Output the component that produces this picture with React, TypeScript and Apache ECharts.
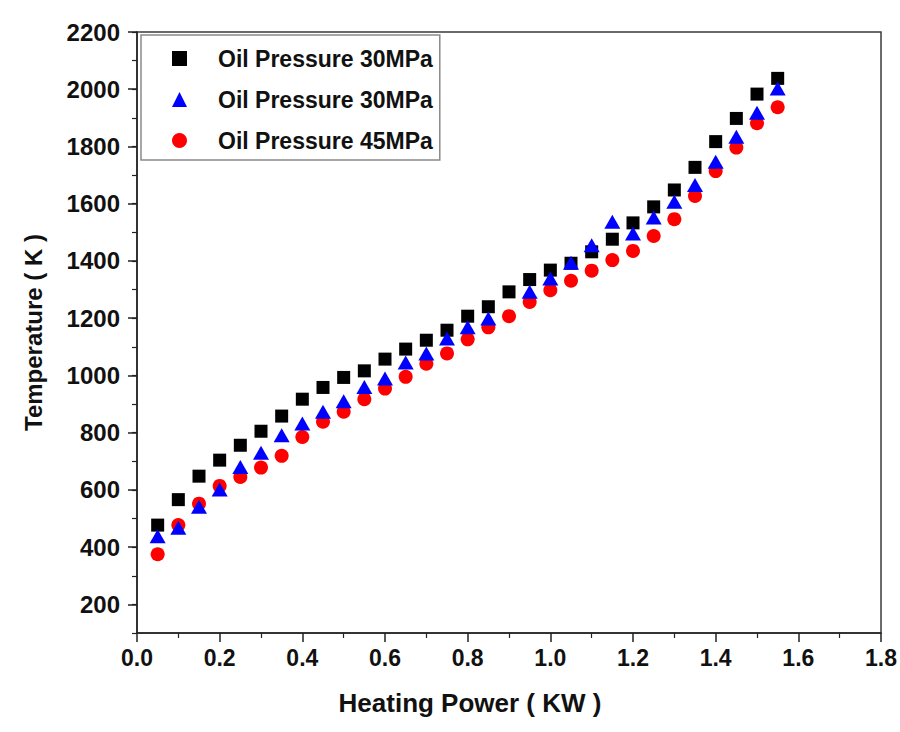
import React, { useEffect, useRef } from "react";
import * as echarts from "echarts";

const heatingPower = [
  0.05, 0.1, 0.15, 0.2, 0.25, 0.3, 0.35, 0.4, 0.45, 0.5, 0.55, 0.6, 0.65, 0.7, 0.75, 0.8,
  0.85, 0.9, 0.95, 1.0, 1.05, 1.1, 1.15, 1.2, 1.25, 1.3, 1.35, 1.4, 1.45, 1.5, 1.55,
];
const seriesKeys = ["blackSquare", "blueTriangle", "redCircle"];
const legendLabels = ["Oil Pressure 30MPa", "Oil Pressure 30MPa", "Oil Pressure 45MPa"];
const blackTemps = [
  477, 566, 648, 704, 756, 805, 858, 917, 958, 993, 1016, 1057, 1092, 1123, 1158, 1207,
  1240, 1292, 1335, 1368, 1392, 1432, 1476, 1533, 1589, 1648, 1727, 1817, 1898, 1983, 2038,
];
const blueTemps: (number | null)[] = [
  438, 468, 541, 601, 680, 730, 791, 832, 873, 910, 960, 989, 1045, 1077, 1129, 1168,
  1199, null, 1292, 1339, 1394, 1455, 1537, 1496, 1552, 1607, 1665, 1747, 1834, 1918, 2003,
];
const redTemps = [
  375, 477, 552, 614, 645, 678, 719, 785, 838, 873, 917, 954, 995, 1041, 1077, 1126,
  1168, 1207, 1257, 1298, 1331, 1366, 1403, 1435, 1487, 1546, 1627, 1714, 1796, 1881, 1937,
];
const yMajorTicks = [200, 400, 600, 800, 1000, 1200, 1400, 1600, 1800, 2000, 2200];
const xAxisTitle = "Heating Power ( KW )";
const yAxisTitle = "Temperature ( K )";

function pairs(vals: (number | null)[]) {
  const out: [number, number][] = [];
  vals.forEach((v, i) => {
    if (v !== null) out.push([heatingPower[i], v]);
  });
  return out;
}

export default function App() {
  const ref = useRef<HTMLDivElement>(null);
  useEffect(() => {
    if (!ref.current) return;
    const chart = echarts.init(ref.current, null, { renderer: "svg" });
    const labelFont = "'Liberation Sans', Arial, sans-serif";
    chart.setOption({
      animation: false,
      backgroundColor: "#ffffff",
      grid: {
        left: 137,
        right: 9,
        top: 32,
        bottom: 99,
        show: true,
        borderColor: "#3a3a3a",
        borderWidth: 1.5,
        backgroundColor: "transparent",
      },
      legend: {
        orient: "vertical",
        left: 141,
        top: 35,
        padding: [12, 7, 8, 31],
        itemGap: 18,
        itemWidth: 15,
        itemHeight: 15,
        borderColor: "#8a8a8a",
        borderWidth: 1.5,
        backgroundColor: "#ffffff",
        data: seriesKeys,
        formatter: (name: string) => legendLabels[seriesKeys.indexOf(name)],
        textStyle: {
          fontFamily: labelFont,
          fontWeight: "bold",
          fontSize: 23,
          color: "#111",
          lineHeight: 22,
          padding: [0, 0, 0, 26],
        },
      },
      xAxis: {
        type: "value",
        min: 0,
        max: 1.8,
        interval: 0.2,
        name: xAxisTitle,
        nameLocation: "middle",
        nameGap: 57,
        nameTextStyle: {
          fontFamily: labelFont,
          fontWeight: "bold",
          fontSize: 26,
          color: "#111",
          padding: [0, 78, 0, 0],
        },
        axisLine: { show: true, onZero: false, lineStyle: { color: "#222", width: 1.5 } },
        axisTick: { show: true, inside: false, length: 9, lineStyle: { color: "#222", width: 1.5 } },
        minorTick: { show: true, splitNumber: 2, length: 5, lineStyle: { color: "#222", width: 1.2 } },
        splitLine: { show: false },
        minorSplitLine: { show: false },
        axisLabel: {
          margin: 13,
          fontFamily: labelFont,
          fontWeight: "bold",
          fontSize: 23,
          color: "#111",
          formatter: (v: number) => v.toFixed(1),
        },
      },
      yAxis: [
        {
          type: "value",
          min: 100,
          max: 2200,
          interval: 100,
          name: yAxisTitle,
          nameLocation: "middle",
          nameGap: 92,
          nameTextStyle: {
            fontFamily: labelFont,
            fontWeight: "bold",
            fontSize: 24,
            color: "#111",
          },
          axisLine: { show: true, onZero: false, lineStyle: { color: "#222", width: 1.5 } },
          axisTick: {
            show: true,
            inside: false,
            length: 9,
            customValues: yMajorTicks,
            lineStyle: { color: "#222", width: 1.5 },
          },
          axisLabel: {
            margin: 17,
            customValues: yMajorTicks,
            fontFamily: labelFont,
            fontWeight: "bold",
            fontSize: 24,
            color: "#111",
            formatter: (v: number) => String(v),
          },
          splitLine: { show: false },
        },
        {
          type: "value",
          min: 100,
          max: 2200,
          interval: 100,
          position: "left",
          axisLine: { show: false },
          axisTick: { show: true, inside: false, length: 5, lineStyle: { color: "#222", width: 1.2 } },
          axisLabel: { show: false },
          splitLine: { show: false },
        },
      ],
      series: [
        {
          name: seriesKeys[0],
          type: "scatter",
          symbol: "rect",
          symbolSize: 13,
          z: 3,
          itemStyle: { color: "#000000", opacity: 1 },
          data: pairs(blackTemps),
        },
        {
          name: seriesKeys[1],
          type: "scatter",
          symbol: "triangle",
          symbolSize: [16, 14],
          z: 4,
          itemStyle: { color: "#0000ff", opacity: 1 },
          data: pairs(blueTemps),
        },
        {
          name: seriesKeys[2],
          type: "scatter",
          symbol: "circle",
          symbolSize: 14,
          z: 2,
          itemStyle: { color: "#ff0000", opacity: 1 },
          data: pairs(redTemps),
        },
      ],
    });
    return () => chart.dispose();
  }, []);
  return (
    <div
      ref={ref}
      style={{ position: "absolute", left: 0, top: 0, width: 900, height: 732 }}
    />
  );
}
